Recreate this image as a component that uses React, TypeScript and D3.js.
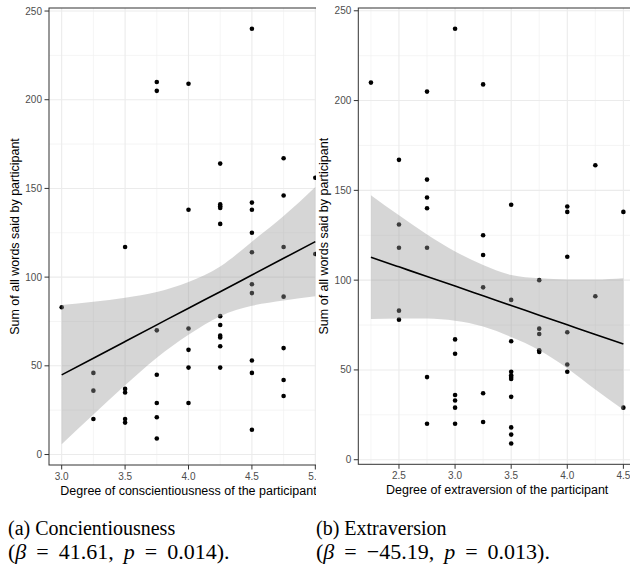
import React from "react";
import * as d3 from "d3";

// conscientiousness panel: score levels and words per participant at each level
const consLevels = [3.0, 3.25, 3.5, 3.75, 4.0, 4.25, 4.5, 4.75, 5.0];
const consWords = [
  [83],
  [46, 36, 20],
  [117, 37, 35, 20, 18],
  [210, 205, 70, 45, 29, 21, 9],
  [209, 138, 71, 59, 49, 29],
  [164, 141, 140, 139, 130, 78, 73, 67, 66, 61, 49],
  [240, 142, 138, 125, 114, 96, 91, 53, 46, 14],
  [167, 146, 117, 89, 60, 42, 33],
  [156, 113],
];
// fitted line and 95% band
const consFitX = [3.0, 3.25, 3.5, 3.75, 4.0, 4.25, 4.5, 4.75, 5.0];
const consFit = [44.9, 54.3, 63.7, 73.1, 82.5, 91.8, 101.2, 110.6, 120.0];
const consHi = [84.3, 86.1, 88.4, 91.6, 97.2, 106.0, 120.0, 134.4, 150.8];
const consLo = [5.8, 22.5, 39.0, 54.6, 67.5, 78.0, 83.8, 86.8, 89.2];

// extraversion panel
const extraLevels = [2.25, 2.5, 2.75, 3.0, 3.25, 3.5, 3.75, 4.0, 4.25, 4.5];
const extraWords = [
  [210],
  [167, 131, 118, 83, 78],
  [205, 156, 146, 140, 118, 46, 20],
  [240, 67, 59, 36, 33, 29, 20],
  [209, 125, 114, 96, 37, 21],
  [142, 89, 66, 49, 47, 46, 45, 35, 18, 14, 9],
  [100, 73, 70, 61, 60],
  [141, 138, 113, 71, 53, 49],
  [164, 91],
  [138, 29],
];
const extraFitX = [2.25, 2.5, 2.75, 3.0, 3.25, 3.5, 3.75, 4.0, 4.25, 4.5];
const extraFit = [112.8, 107.4, 102.0, 96.7, 91.3, 85.9, 80.5, 75.1, 69.7, 64.4];
const extraHi = [147.3, 136.1, 125.4, 116.0, 108.4, 102.8, 101.0, 100.4, 100.3, 101.0];
const extraLo = [78.3, 78.7, 78.6, 77.4, 74.2, 68.3, 61.0, 51.0, 39.1, 27.8];

const yTitle = "Sum of all words said by participant";
const consTitle = "Degree of conscientiousness of the participant";
const extraTitle = "Degree of extraversion of the participant";

const sans = "'Liberation Sans', Arial, sans-serif";
const serif = "'Liberation Serif', 'Times New Roman', serif";

const Panel = ({ id, levels, words, fitX, fit, lo, hi, left, right, top, bottom, clipLeft, clipRight, xTitle }) => {
  const pad = (a, b) => [a - (b - a) * 0.05, b + (b - a) * 0.05];
  const flat = words.flat();
  const x = d3.scaleLinear().domain(pad(d3.min(levels), d3.max(levels))).range([left, right]);
  const y = d3
    .scaleLinear()
    .domain(pad(Math.min(d3.min(flat), d3.min(lo)), Math.max(d3.max(flat), d3.max(hi))))
    .range([bottom, top]);

  const xTicks = x.ticks(5);
  const yTicks = y.ticks(5);
  const xStep = xTicks[1] - xTicks[0];
  const yStep = yTicks[1] - yTicks[0];
  const [xd0, xd1] = x.domain();
  const [yd0, yd1] = y.domain();
  const xMinor = d3.range(xTicks[0] - xStep / 2, xd1, xStep).filter((v) => v > xd0);
  const yMinor = d3.range(yTicks[0] - yStep / 2, yd1, yStep).filter((v) => v > yd0);

  const pts = levels.flatMap((lv, i) => words[i].map((w) => [lv, w]));

  const band = d3
    .area()
    .x((d, i) => x(fitX[i]))
    .y0((d, i) => y(lo[i]))
    .y1((d, i) => y(hi[i]))
    .curve(d3.curveMonotoneX);
  const line = d3
    .line()
    .x((d, i) => x(fitX[i]))
    .y((d) => y(d))
    .curve(d3.curveMonotoneX);

  const fx = d3.format(".1f");
  const midY = (top + bottom) / 2;

  return (
    <g clipPath={`url(#${id})`}>
      <defs>
        <clipPath id={id}>
          <rect x={clipLeft} y={0} width={clipRight - clipLeft} height={510} />
        </clipPath>
        <clipPath id={id + "p"}>
          <rect x={left} y={top} width={right - left} height={bottom - top} />
        </clipPath>
      </defs>
      <rect x={left} y={top} width={right - left} height={bottom - top} fill="#fff" />
      <g clipPath={`url(#${id}p)`}>
        {xMinor.map((v) => (
          <line key={"xm" + v} x1={x(v)} x2={x(v)} y1={top} y2={bottom} stroke="#f0f0f0" strokeWidth={0.7} />
        ))}
        {yMinor.map((v) => (
          <line key={"ym" + v} x1={left} x2={right} y1={y(v)} y2={y(v)} stroke="#f0f0f0" strokeWidth={0.7} />
        ))}
        {xTicks.map((v) => (
          <line key={"xg" + v} x1={x(v)} x2={x(v)} y1={top} y2={bottom} stroke="#ebebeb" strokeWidth={1.1} />
        ))}
        {yTicks.map((v) => (
          <line key={"yg" + v} x1={left} x2={right} y1={y(v)} y2={y(v)} stroke="#ebebeb" strokeWidth={1.1} />
        ))}
        {pts.map(([lv, w], i) => (
          <circle key={i} cx={x(lv)} cy={y(w)} r={2.3} fill="#000" />
        ))}
        <path d={band(fitX)} fill="#999999" fillOpacity={0.4} />
        <path d={line(fit)} fill="none" stroke="#000" strokeWidth={1.6} />
      </g>
      <rect x={left} y={top} width={right - left} height={bottom - top} fill="none" stroke="#333" strokeWidth={1} />
      {yTicks.map((v) => (
        <g key={"yt" + v}>
          <line x1={left - 4.5} x2={left} y1={y(v)} y2={y(v)} stroke="#333" strokeWidth={1} />
          <text x={left - 7} y={y(v) + 3.5} textAnchor="end" fontSize={10} fill="#4d4d4d" fontFamily={sans}>
            {v}
          </text>
        </g>
      ))}
      {xTicks.map((v) => (
        <g key={"xt" + v}>
          <line x1={x(v)} x2={x(v)} y1={bottom} y2={bottom + 4.5} stroke="#333" strokeWidth={1} />
          <text x={x(v)} y={bottom + 15} textAnchor="middle" fontSize={10} fill="#4d4d4d" fontFamily={sans}>
            {fx(v)}
          </text>
        </g>
      ))}
      <text x={(left + right) / 2} y={bottom + 30} textAnchor="middle" fontSize={12.5} fill="#000" fontFamily={sans}>
        {xTitle}
      </text>
      <text
        transform={`translate(${clipLeft + (clipLeft > 0 ? 12 : 19)},${midY}) rotate(-90)`}
        textAnchor="middle"
        fontSize={12.5}
        fill="#000"
        fontFamily={sans}
      >
        {yTitle}
      </text>
    </g>
  );
};

const Caption = ({ x, label, beta, p }) => (
  <g fontFamily={serif} fill="#000">
    <text x={x} y={535} fontSize={20}>
      {label}
    </text>
    <text x={x} y={559} fontSize={22} wordSpacing={4.5}>
      (<tspan fontStyle="italic">β</tspan> = {beta}, <tspan fontStyle="italic">p</tspan> = {p}).
    </text>
  </g>
);

export default function App() {
  return (
    <svg
      width={630}
      height={567}
      viewBox="0 0 630 567"
      style={{ position: "absolute", left: 0, top: 0, background: "#fff" }}
    >
      <rect x={0} y={0} width={630} height={567} fill="#fff" />
      <Panel
        id="cons"
        levels={consLevels}
        words={consWords}
        fitX={consFitX}
        fit={consFit}
        lo={consLo}
        hi={consHi}
        left={49}
        right={328}
        top={8}
        bottom={465}
        clipLeft={0}
        clipRight={316}
        xTitle={consTitle}
      />
      <Panel
        id="extra"
        levels={extraLevels}
        words={extraWords}
        fitX={extraFitX}
        fit={extraFit}
        lo={extraLo}
        hi={extraHi}
        left={358.3}
        right={636}
        top={8}
        bottom={464.3}
        clipLeft={316}
        clipRight={630}
        xTitle={extraTitle}
      />
      <Caption x={8} label="(a) Concientiousness" beta="41.61" p="0.014" />
      <Caption x={316} label="(b) Extraversion" beta="−45.19" p="0.013" />
    </svg>
  );
}
